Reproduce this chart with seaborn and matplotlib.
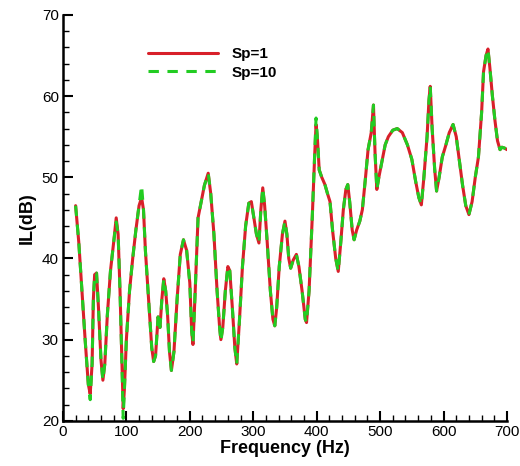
import matplotlib
matplotlib.use("Agg")
import matplotlib.pyplot as plt
import pandas as pd
import seaborn as sns
from matplotlib.ticker import MultipleLocator

freq = [20, 25, 30, 35, 40, 43, 46, 48, 50, 53, 56, 60, 63, 66, 70, 75, 80, 84, 87, 90,
        93, 95, 97, 100, 105, 110, 115, 120, 124, 127, 130, 135, 140, 143, 146, 150, 153,
        156, 159, 162, 165, 168, 171, 175, 180, 185, 190, 195, 200, 203, 205, 208, 213,
        218, 223, 229, 233, 238, 243, 247, 249, 252, 256, 260, 263, 267, 271, 274, 278,
        283, 288, 293, 297, 301, 305, 309, 312, 315, 318, 322, 327, 331, 334, 337, 341,
        346, 350, 353, 356, 359, 363, 368, 372, 377, 382, 384, 388, 393, 397, 399, 401,
        404, 408, 413, 417, 421, 425, 430, 434, 438, 442, 446, 449, 452, 456, 459, 463,
        468, 472, 477, 481, 486, 489.5, 492, 494.8, 498, 503, 508, 513, 520, 527, 535, 543,
        550, 556, 561, 565, 569, 574, 577, 579, 582, 586, 589, 593, 598, 603, 609, 615,
        620, 625, 630, 635, 640, 645, 650, 655, 660, 663, 667, 670, 673, 677, 681, 685,
        689, 692, 696, 700]

il_sp1 = [46.5, 42, 36, 30, 24.5, 23.3, 27, 35, 38, 38.2, 34, 27.5, 25, 27, 33, 38.5, 42, 45,
          43, 36, 27, 21.5, 24, 30, 36, 40, 43.5, 46.5, 47.5, 46, 41, 35, 29, 27.3, 28, 32.8,
          31.5, 35, 37.5, 36, 33, 28.5, 26.2, 28.5, 35, 40.5, 42.3, 41, 37, 31, 29.4, 35, 45,
          47, 49, 50.5, 48, 43, 36, 31.5, 30, 31.5, 36, 39, 38.5, 34, 29, 27, 32, 39, 44,
          46.8, 47, 45, 43, 41.9, 46, 48.7, 46.5, 42, 36, 32.5, 31.7, 34, 39, 43, 44.6, 43,
          40, 38.8, 39.8, 40.5, 39, 36, 32.5, 32.1, 36, 45, 53, 56.5, 55, 50.9, 50, 49.1, 48,
          47, 43.5, 40, 38.4, 42, 46, 48.5, 49.1, 47, 43.5, 42.3, 43.5, 44.6, 46, 50, 53.4,
          55.5, 58.9, 53, 48.5, 50, 52, 54, 55, 55.8, 56, 55.5, 54, 52.2, 49.5, 47.5, 46.6,
          50, 55, 59.5, 61.2, 56, 51, 48.3, 50, 52.5, 53.8, 55.5, 56.5, 55, 52, 49, 46.5,
          45.4, 47, 50, 52.5, 58, 63, 65, 65.8, 63.5, 60, 57, 54.5, 53.4, 53.7, 53.6, 53.4]

il_sp10 = [46.5, 42, 36, 30, 24.5, 22.6, 27, 35, 38, 38.2, 34, 27.5, 25, 27, 33, 38.5, 42, 44.5,
           43, 36, 27, 20.3, 24, 30, 36, 40, 43.5, 46.5, 49, 46, 41, 35, 29, 27.3, 28, 32.8,
           31.5, 35, 37.5, 36, 33, 28.5, 26.2, 28.5, 35, 40.5, 42.3, 41, 37, 31, 29.6, 35, 45,
           47, 49, 50.5, 48, 43, 36, 31.5, 29.8, 31.5, 36, 39, 38.5, 34, 29, 27, 32, 39, 44,
           46.8, 47, 45, 43, 41.9, 46, 48.7, 46.5, 42, 36, 32.5, 31.7, 34, 39, 43, 44.6, 43,
           40, 38.8, 39.8, 40.5, 39, 36, 32.5, 32.1, 36, 45, 53, 57.3, 55, 50.9, 50, 49.1, 48,
           47, 43.5, 40, 38.4, 42, 46, 48.5, 49.1, 47, 43.5, 42.3, 43.5, 44.6, 46, 50, 53.4,
           55.5, 58.9, 53, 48.5, 50, 52, 54, 55, 55.8, 56, 55.5, 54, 52.2, 49.5, 47.5, 46.6,
           50, 55, 59.5, 61.2, 56, 51, 48.3, 50, 52.5, 53.8, 55.5, 56.5, 55, 52, 49, 46.5,
           45.4, 47, 50, 52.5, 58, 63, 65, 65.8, 63.5, 60, 57, 54.5, 53.4, 53.7, 53.6, 53.4]

series_names = ["Sp=1", "Sp=10"]

df = pd.concat([
    pd.DataFrame({"Frequency": freq, "IL": il_sp1, "case": series_names[0]}),
    pd.DataFrame({"Frequency": freq, "IL": il_sp10, "case": series_names[1]}),
])

sns.set_style("ticks")
plt.rcParams["font.family"] = ["Liberation Sans", "DejaVu Sans"]
plt.rcParams.update({"text.color": "black", "axes.labelcolor": "black",
                     "xtick.color": "black", "ytick.color": "black",
                     "axes.edgecolor": "black"})

fig = plt.figure(figsize=(5.2, 4.66), dpi=100)
ax = fig.add_axes([0.121, 0.097, 0.854, 0.871])

sns.lineplot(data=df, x="Frequency", y="IL", hue="case", style="case",
             palette={"Sp=1": "#d8202a", "Sp=10": "#22cc22"},
             dashes={"Sp=1": "", "Sp=10": (3.4, 2.8)},
             linewidth=2.2, sort=False, estimator=None, ax=ax)

ax.set_xlim(0, 700)
ax.set_ylim(20, 70)
ax.xaxis.set_major_locator(MultipleLocator(100))
ax.xaxis.set_minor_locator(MultipleLocator(20))
ax.yaxis.set_major_locator(MultipleLocator(10))
ax.yaxis.set_minor_locator(MultipleLocator(2))
ax.tick_params(which="major", direction="in", length=7, width=1.5, labelsize=11, pad=3)
ax.tick_params(which="minor", direction="in", length=4, width=1)
sns.despine(ax=ax)
for s in ["left", "bottom"]:
    ax.spines[s].set_linewidth(1.8)

ax.set_xlabel("Frequency (Hz)", fontsize=13, fontweight="bold", labelpad=1)
ax.set_ylabel("IL(dB)", fontsize=13, fontweight="bold", labelpad=4)

leg = ax.legend(loc="upper left", bbox_to_anchor=(0.16, 0.955), frameon=False,
                handlelength=4.6, handletextpad=0.9, labelspacing=0.3,
                prop={"size": 11, "weight": "bold"})

fig.savefig("out.png", dpi=100)
